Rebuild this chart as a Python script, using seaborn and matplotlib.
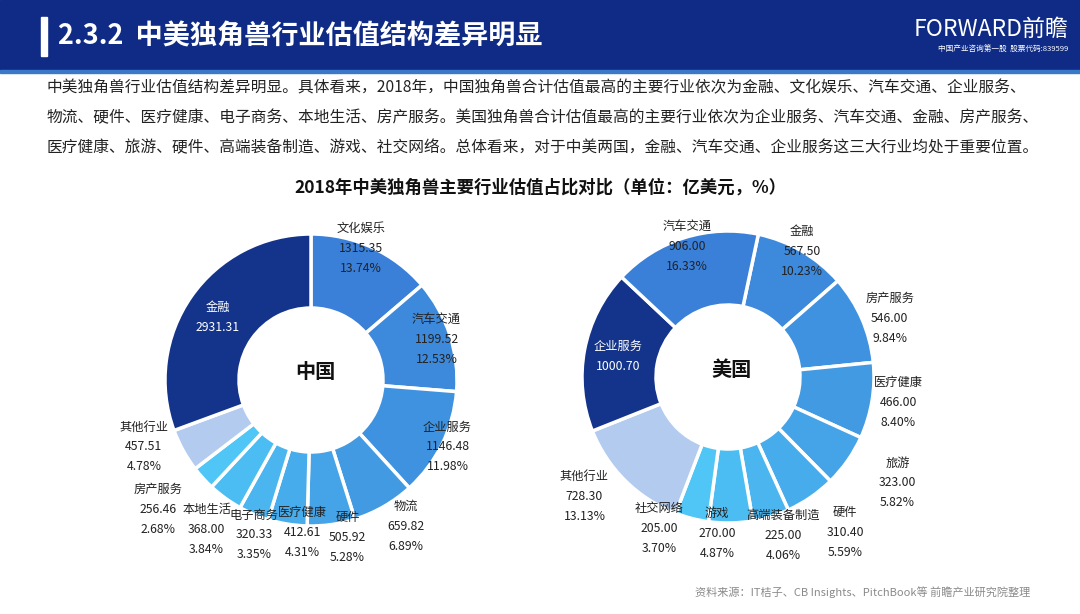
import numpy as np
import matplotlib
matplotlib.use("Agg")
import matplotlib.pyplot as plt
from matplotlib.patches import Rectangle
import seaborn as sns

# data (亿美元), clockwise from 12 o'clock
cn_names = ['文化娱乐', '汽车交通', '企业服务', '物流', '硬件', '医疗健康',
            '电子商务', '本地生活', '房产服务', '其他行业', '金融']
cn_values = [1315.35, 1199.52, 1146.48, 659.82, 505.92, 412.61,
             320.33, 368.00, 256.46, 457.51, 2931.31]

us_names = ['金融', '房产服务', '医疗健康', '旅游', '硬件', '高端装备制造',
            '游戏', '社交网络', '其他行业', '企业服务', '汽车交通']
us_values = [567.50, 546.00, 466.00, 323.00, 310.40, 225.00,
             270.00, 205.00, 728.30, 1000.70, 906.00]

title = '2.3.2  中美独角兽行业估值结构差异明显'
chart_title = '2018年中美独角兽主要行业估值占比对比（单位：亿美元，%）'
intro = [
    '中美独角兽行业估值结构差异明显。具体看来，2018年，中国独角兽合计估值最高的主要行业依次为金融、文化娱乐、汽车交通、企业服务、',
    '物流、硬件、医疗健康、电子商务、本地生活、房产服务。美国独角兽合计估值最高的主要行业依次为企业服务、汽车交通、金融、房产服务、',
    '医疗健康、旅游、硬件、高端装备制造、游戏、社交网络。总体看来，对于中美两国，金融、汽车交通、企业服务这三大行业均处于重要位置。',
]
source = '资料来源：IT桔子、CB Insights、PitchBook等 前瞻产业研究院整理'

# layout (pixels)
W, H = 1080, 614
R_OUT, RING = 146, 74
# label distance from centre and small angle nudges (deg), per slice
cn_label_r = [141, 132, 152, 174, 162, 153, 165, 182, 200, 180, 112]
cn_label_da = [-4, 0, 0, -3, -5, -6, -3, -1, 2, 7, -1]
us_label_r = [146, 172, 172, 200, 195, 168, 157, 166, 187, 112, 137]
us_label_da = [0, 3.5, -1, -3, -2.5, -2, 5, 10, 5.5, 0, 0]

sns.set_theme(style='white')
plt.rcParams['font.family'] = ['Noto Sans CJK SC', 'DejaVu Sans']

NAVY = '#13348a'
LIGHT = '#b2cbef'
grad = sns.blend_palette(['#3a80d8', '#4fc6f6'], 9)

cn_colors = list(grad) + [LIGHT, NAVY]
us_colors = list(grad[1:]) + [LIGHT, NAVY, grad[0]]

fig = plt.figure(figsize=(W / 100, H / 100), dpi=100)
ax = fig.add_axes([0, 0, 1, 1])


def py(y):
    return H - y


def donut(cx, cy, names, values, colors, start, label_r, label_da, centre):
    values = np.array(values)
    ax.pie(values, colors=colors, startangle=start, counterclock=False,
           radius=R_OUT, center=(cx, py(cy)),
           wedgeprops=dict(width=RING, edgecolor='white', linewidth=2.5))
    total = values.sum()
    # angle measured clockwise from 12 o'clock
    cum = 90 - start
    big = np.argmax(values)
    for i, (n, v) in enumerate(zip(names, values)):
        span = v / total * 360
        mid = cum + span / 2 + label_da[i]
        cum += span
        a = np.deg2rad(mid)
        lx = cx + label_r[i] * np.sin(a)
        ly = cy - label_r[i] * np.cos(a)
        if i == big:
            ax.text(lx, py(ly - 10), n, ha='center', va='center', fontsize=8.8, color='white')
            ax.text(lx, py(ly + 10), f'{v:.2f}', ha='center', va='center', fontsize=8.8, color='white')
        else:
            ax.text(lx, py(ly - 20), n, ha='center', va='center', fontsize=8.8, color='#222222')
            ax.text(lx, py(ly), f'{v:.2f}', ha='center', va='center', fontsize=8.8, color='#222222')
            ax.text(lx, py(ly + 20), f'{v / total * 100:.2f}%', ha='center', va='center',
                    fontsize=8.8, color='#222222')
    ax.text(cx + 4, py(cy - 8), centre, ha='center', va='center', fontsize=14.5,
            fontweight='bold', color='#111111')


donut(311, 380, cn_names, cn_values, cn_colors, 90, cn_label_r, cn_label_da, '中国')
donut(728, 377, us_names, us_values, us_colors, 78, us_label_r, us_label_da, '美国')

# header band
ax.add_patch(Rectangle((0, py(70)), W, 70, color='#0f2b85', zorder=0))
ax.add_patch(Rectangle((0, py(73)), W, 3, color='#3a78c8', zorder=0))
ax.add_patch(Rectangle((41, py(56)), 6, 39, color='white', zorder=1))
ax.text(58, py(37), title, fontsize=19.5, fontweight='bold', color='white',
        ha='left', va='center')
ax.text(1068, py(29), 'FORWARD前瞻', fontsize=16.5, fontweight='medium', color='white',
        ha='right', va='center')
ax.text(1068, py(50), '中国产业咨询第一股  股票代码:839599', fontsize=5.5, color='white',
        ha='right', va='center')

for k, line in enumerate(intro):
    ax.text(47, py(88 + 30 * k), line, fontsize=11.3, color='#222222', ha='left', va='center')

ax.text(540, py(188), chart_title, fontsize=12.5, fontweight='bold', color='#111111',
        ha='center', va='center')
ax.text(1030, py(592), source, fontsize=8, color='#8a8a8a', ha='right', va='center')

ax.set_xlim(0, W)
ax.set_ylim(0, H)
ax.set_aspect('equal')
ax.axis('off')

fig.savefig('out.png', dpi=100, facecolor='white')
